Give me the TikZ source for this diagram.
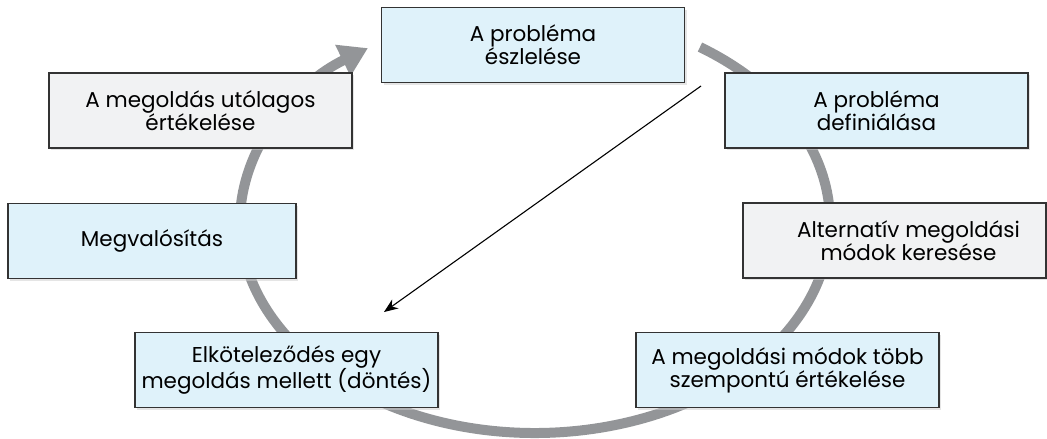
\documentclass[tikz,border=0pt]{standalone}
\usepackage{fontspec}
\setmainfont{Poppins}
\usetikzlibrary{arrows.meta,shadows}
\definecolor{boxblue}{HTML}{DFF2FA}
\definecolor{boxgrey}{HTML}{F1F2F3}
\definecolor{ringgrey}{HTML}{939598}
\definecolor{edge}{HTML}{333333}

\begin{document}
\begin{tikzpicture}[x=1pt,y=-1pt,
    box/.style = {
      draw = edge,
      line width = 1.2pt,
      rectangle,
      align = center,
      minimum width = 303pt,
      minimum height = 75pt,
      font = \fontsize{21.5}{23}\selectfont,
      drop shadow = {shadow xshift=2pt, shadow yshift=-2pt, fill=black!20}
    },
    blue/.style = {box, fill = boxblue},
    grey/.style = {box, fill = boxgrey}
  ]
  \useasboundingbox (0,0) rectangle (1047,439);

  \draw[ringgrey, line width=10pt,
    -{Triangle[width=33pt,length=28pt]}]
    (535,222) ++(-56:295 and 211) arc[start angle=-56, end angle=235.5,
    x radius=295, y radius=211];

  \node[blue] (eszl)   at (533,45)    {A probléma\\észlelése};
  \node[blue] (def)    at (876.5,110.5) {A probléma\\definiálása};
  \node[grey] (alt)    at (894.5,240.5)
    {\hspace*{28pt}Alternatív megoldási\\\hspace*{28pt}módok keresése};
  \node[blue] (ert)    at (787.5,370) {A megoldási módok több\\szempontú értékelése};
  \node[blue] (dont)   at (286.5,370) {Elköteleződés egy\\megoldás mellett (döntés)};
  \node[blue, minimum width=288pt] (megv) at (152,241) {Megvalósítás};
  \node[grey] (utol)   at (200.5,110.5) {A megoldás utólagos\\értékelése};

  \coordinate (from) at (701,86);
  \coordinate (to)   at (384,312);
  \draw[line width=1.1pt, -{Stealth[length=14pt,width=11pt]}] (from) -- (to);
\end{tikzpicture}
\end{document}
